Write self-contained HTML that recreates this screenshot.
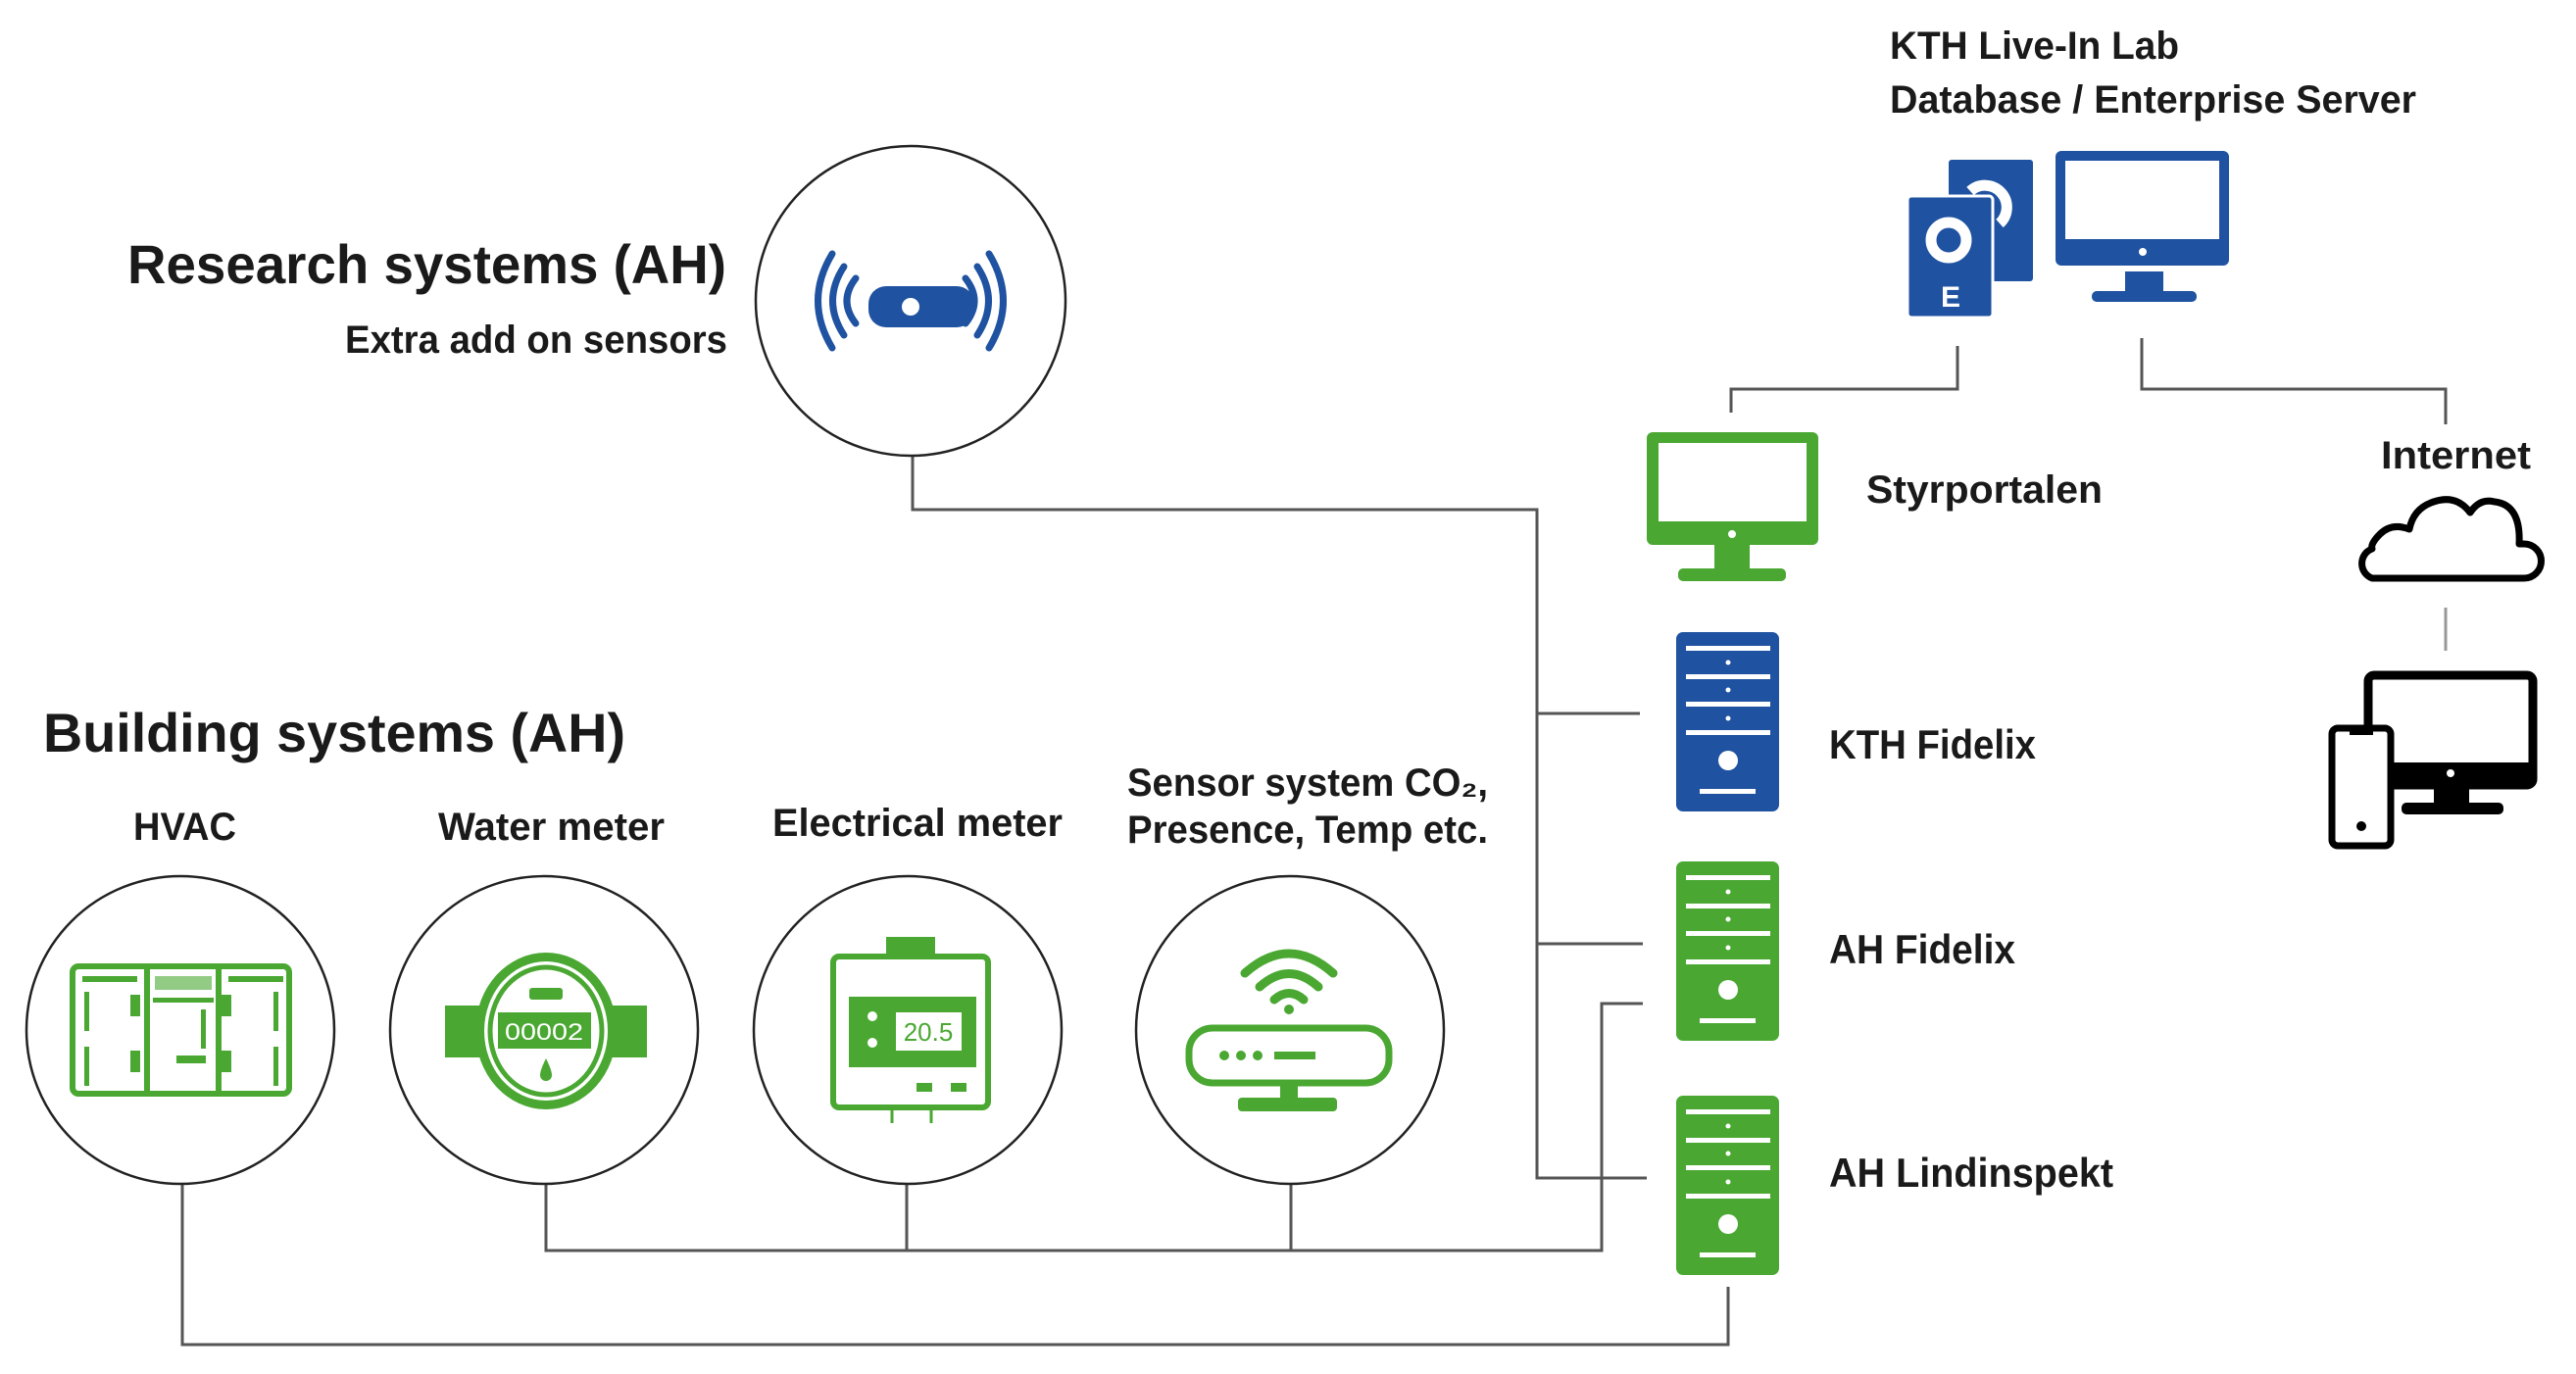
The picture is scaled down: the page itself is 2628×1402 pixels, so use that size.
<!DOCTYPE html>
<html><head><meta charset="utf-8"><style>
html,body{margin:0;padding:0;background:#fff;}
svg{display:block;}
text{font-family:"Liberation Sans",sans-serif;fill:#1a1a1a;}
</style></head><body>
<svg width="2628" height="1402" viewBox="0 0 2628 1402" xmlns="http://www.w3.org/2000/svg">
<!-- connectors -->
<g fill="none" stroke="#555" stroke-width="3">
<polyline points="931,466 931,520 1568,520 1568,1202 1680,1202"/>
<line x1="1568" y1="728" x2="1673" y2="728"/>
<line x1="1568" y1="963" x2="1676" y2="963"/>
<polyline points="1676,1024 1634,1024 1634,1276 557,1276 557,1209"/>
<line x1="925" y1="1209" x2="925" y2="1276"/>
<line x1="1317" y1="1209" x2="1317" y2="1276"/>
<polyline points="186,1209 186,1372 1763,1372 1763,1313"/>
<polyline points="1997,353 1997,397 1766,397 1766,421"/>
<polyline points="2185,345 2185,397 2495,397 2495,433"/>
<line x1="2495" y1="620" x2="2495" y2="664" stroke="#999"/>
</g>
<!-- circles -->
<g fill="#fff" stroke="#222" stroke-width="2.5">
<circle cx="929" cy="307" r="158"/>
<circle cx="184" cy="1051" r="157"/>
<circle cx="555" cy="1051" r="157"/>
<circle cx="926" cy="1051" r="157"/>
<circle cx="1316" cy="1051" r="157"/>
</g>
<!-- text -->
<g font-weight="bold">
<text x="130" y="289" font-size="56" textLength="611" lengthAdjust="spacingAndGlyphs">Research systems (AH)</text>
<text x="352" y="360" font-size="40" textLength="390" lengthAdjust="spacingAndGlyphs">Extra add on sensors</text>
<text x="44" y="767" font-size="56" textLength="594" lengthAdjust="spacingAndGlyphs">Building systems (AH)</text>
<text x="136" y="857" font-size="40" textLength="105" lengthAdjust="spacingAndGlyphs">HVAC</text>
<text x="447" y="857" font-size="40" textLength="231" lengthAdjust="spacingAndGlyphs">Water meter</text>
<text x="788" y="853" font-size="40" textLength="296" lengthAdjust="spacingAndGlyphs">Electrical meter</text>
<text x="1150" y="812" font-size="40" textLength="368" lengthAdjust="spacingAndGlyphs">Sensor system CO₂,</text>
<text x="1150" y="860" font-size="40" textLength="368" lengthAdjust="spacingAndGlyphs">Presence, Temp etc.</text>
<text x="1928" y="60" font-size="40" textLength="295" lengthAdjust="spacingAndGlyphs">KTH Live-In Lab</text>
<text x="1928" y="115" font-size="40" textLength="537" lengthAdjust="spacingAndGlyphs">Database / Enterprise Server</text>
<text x="1904" y="513" font-size="40" textLength="241" lengthAdjust="spacingAndGlyphs">Styrportalen</text>
<text x="2429" y="478" font-size="40" textLength="153" lengthAdjust="spacingAndGlyphs">Internet</text>
<text x="1866" y="774" font-size="42" textLength="211" lengthAdjust="spacingAndGlyphs">KTH Fidelix</text>
<text x="1866" y="983" font-size="42" textLength="190" lengthAdjust="spacingAndGlyphs">AH Fidelix</text>
<text x="1866" y="1211" font-size="42" textLength="290" lengthAdjust="spacingAndGlyphs">AH Lindinspekt</text>
</g>
<!-- research icon -->
<g fill="none" stroke="#1f52a0" stroke-width="7" stroke-linecap="round">
<path d="M873,330 Q855,307 873,284"/><path d="M861,342 Q838,307 861,272"/><path d="M849,355 Q820,307 849,259"/>
<path d="M985,330 Q1003,307 985,284"/><path d="M997,342 Q1020,307 997,272"/><path d="M1009,355 Q1038,307 1009,259"/>
</g>
<rect x="886" y="292" width="108" height="42" rx="18" fill="#1f52a0"/>
<ellipse cx="929" cy="313" rx="9" ry="9" fill="#fff"/>
<!-- HVAC icon -->
<g fill="none" stroke="#4aa832" stroke-width="6">
<rect x="74" y="986" width="221" height="130" rx="6"/>
<line x1="150" y1="988" x2="150" y2="1114"/><line x1="223" y1="988" x2="223" y2="1114"/>
</g>
<g fill="#4aa832">
<rect x="84" y="996" width="56" height="6"/><rect x="233" y="996" width="56" height="6"/>
<rect x="158" y="996" width="58" height="14" opacity=".6"/>
<rect x="156" y="1018" width="62" height="5"/>
<rect x="133" y="1015" width="10" height="22"/><rect x="226" y="1015" width="10" height="22"/>
<rect x="133" y="1072" width="10" height="22"/><rect x="226" y="1072" width="10" height="22"/>
<rect x="180" y="1077" width="30" height="8"/>
<rect x="86" y="1012" width="5" height="40"/><rect x="86" y="1068" width="5" height="40"/>
<rect x="279" y="1012" width="5" height="40"/><rect x="279" y="1068" width="5" height="40"/>
<rect x="205" y="1030" width="5" height="40"/>
</g>
<!-- water meter -->
<rect x="454" y="1026" width="206" height="53" fill="#4aa832"/>
<ellipse cx="557" cy="1052" rx="72" ry="80" fill="#4aa832"/>
<ellipse cx="557" cy="1052" rx="63" ry="71" fill="#fff"/>
<ellipse cx="557" cy="1052" rx="57" ry="65" fill="none" stroke="#4aa832" stroke-width="5"/>
<rect x="540" y="1008" width="34" height="12" rx="3" fill="#4aa832"/>
<rect x="508" y="1033" width="95" height="37" fill="#4aa832"/>
<text x="555" y="1061" font-size="24" text-anchor="middle" style="fill:#fff" textLength="80" lengthAdjust="spacingAndGlyphs">00002</text>
<path d="M557,1080 Q551,1092 551,1097 A6,6 0 0 0 563,1097 Q563,1092 557,1080Z" fill="#4aa832"/>
<!-- electrical meter -->
<rect x="904" y="956" width="50" height="20" fill="#4aa832"/>
<rect x="850" y="976" width="158" height="154" rx="6" fill="none" stroke="#4aa832" stroke-width="6"/>
<rect x="866" y="1017" width="130" height="72" fill="#4aa832"/>
<rect x="914" y="1033" width="67" height="39" fill="#fff"/>
<text x="947" y="1062" font-size="26" text-anchor="middle" style="fill:#4aa832">20.5</text>
<circle cx="890" cy="1037" r="5" fill="#fff"/><circle cx="890" cy="1064" r="5" fill="#fff"/>
<rect x="935" y="1105" width="16" height="9" fill="#4aa832"/><rect x="970" y="1105" width="16" height="9" fill="#4aa832"/>
<line x1="910" y1="1132" x2="910" y2="1146" stroke="#4aa832" stroke-width="3"/><line x1="950" y1="1132" x2="950" y2="1146" stroke="#4aa832" stroke-width="3"/>
<!-- sensor router -->
<g fill="none" stroke="#4aa832" stroke-width="9" stroke-linecap="round">
<path d="M1270,993 Q1315,953 1360,993"/><path d="M1285,1007 Q1315,980 1345,1007"/><path d="M1300,1020 Q1315,1007 1330,1020"/>
</g>
<circle cx="1315" cy="1030" r="5" fill="#4aa832"/>
<rect x="1213" y="1049" width="204" height="56" rx="24" fill="none" stroke="#4aa832" stroke-width="7"/>
<circle cx="1249" cy="1077" r="5" fill="#4aa832"/><circle cx="1266" cy="1077" r="5" fill="#4aa832"/><circle cx="1283" cy="1077" r="5" fill="#4aa832"/>
<rect x="1300" y="1073" width="42" height="8" fill="#4aa832"/>
<rect x="1306" y="1105" width="18" height="18" fill="#4aa832"/>
<rect x="1263" y="1120" width="101" height="14" rx="4" fill="#4aa832"/>
<!-- enterprise doc icon -->
<rect x="1988" y="163" width="86" height="124" rx="3" fill="#1f52a0"/>
<rect x="1946" y="200" width="87" height="124" rx="4" fill="#1f52a0" stroke="#fff" stroke-width="3"/>
<path d="M2010,195 A20,20 0 1 1 2040,228" fill="none" stroke="#fff" stroke-width="11"/>
<circle cx="1988" cy="245" r="18" fill="none" stroke="#fff" stroke-width="11"/>
<text x="1990" y="313" font-size="30" font-weight="bold" text-anchor="middle" style="fill:#fff">E</text>
<!-- blue monitor -->
<rect x="2097" y="154" width="177" height="117" rx="6" fill="#1f52a0"/>
<rect x="2107" y="164" width="157" height="80" fill="#fff"/>
<circle cx="2186" cy="257" r="4" fill="#fff"/>
<rect x="2168" y="277" width="39" height="20" fill="#1f52a0"/>
<rect x="2134" y="297" width="107" height="11" rx="5" fill="#1f52a0"/>
<!-- green monitor -->
<rect x="1680" y="441" width="175" height="115" rx="6" fill="#4aa832"/>
<rect x="1692" y="452" width="151" height="80" fill="#fff"/>
<circle cx="1767" cy="545" r="4" fill="#fff"/>
<rect x="1749" y="556" width="36" height="24" fill="#4aa832"/>
<rect x="1712" y="580" width="110" height="13" rx="5" fill="#4aa832"/>
<!-- servers -->
<g id="srv">
</g>
<g>
<rect x="1710" y="645" width="105" height="183" rx="7" fill="#1f52a0"/>
<rect x="1710" y="879" width="105" height="183" rx="7" fill="#4aa832"/>
<rect x="1710" y="1118" width="105" height="183" rx="7" fill="#4aa832"/>
</g>
<g fill="#fff">
<rect x="1720" y="659" width="86" height="5"/><rect x="1720" y="688" width="86" height="5"/><rect x="1720" y="716" width="86" height="5"/><rect x="1720" y="745" width="86" height="5"/><circle cx="1763" cy="776" r="10"/><rect x="1734" y="805" width="57" height="5"/><circle cx="1763" cy="676" r="2.5"/><circle cx="1763" cy="704" r="2.5"/><circle cx="1763" cy="733" r="2.5"/>
<rect x="1720" y="893" width="86" height="5"/><rect x="1720" y="922" width="86" height="5"/><rect x="1720" y="950" width="86" height="5"/><rect x="1720" y="979" width="86" height="5"/><circle cx="1763" cy="1010" r="10"/><rect x="1734" y="1039" width="57" height="5"/><circle cx="1763" cy="910" r="2.5"/><circle cx="1763" cy="938" r="2.5"/><circle cx="1763" cy="967" r="2.5"/>
<rect x="1720" y="1132" width="86" height="5"/><rect x="1720" y="1161" width="86" height="5"/><rect x="1720" y="1189" width="86" height="5"/><rect x="1720" y="1218" width="86" height="5"/><circle cx="1763" cy="1249" r="10"/><rect x="1734" y="1278" width="57" height="5"/><circle cx="1763" cy="1149" r="2.5"/><circle cx="1763" cy="1177" r="2.5"/><circle cx="1763" cy="1206" r="2.5"/>
</g>
<!-- cloud -->
<path d="M2420,590 L2575,590 A17,17 0 0 0 2575,555 L2570,555 Q2572,515 2545,512 Q2530,508 2520,523 Q2505,503 2480,513 Q2462,520 2458,540 Q2440,533 2428,545 Q2418,555 2420,560 A16,16 0 0 0 2420,590Z" fill="none" stroke="#000" stroke-width="7" stroke-linejoin="round"/>
<!-- devices -->
<rect x="2416" y="689" width="168" height="112" rx="6" fill="none" stroke="#000" stroke-width="9"/>
<rect x="2416" y="778" width="168" height="23" fill="#000"/>
<circle cx="2500" cy="789" r="4" fill="#fff"/>
<rect x="2483" y="801" width="36" height="20" fill="#000"/>
<rect x="2450" y="819" width="104" height="12" rx="5" fill="#000"/>
<rect x="2379" y="743" width="60" height="120" rx="6" fill="#fff" stroke="#000" stroke-width="7"/>
<rect x="2397" y="745" width="24" height="5" fill="#000"/>
<circle cx="2409" cy="843" r="5" fill="#000"/>
</svg>
</body></html>
